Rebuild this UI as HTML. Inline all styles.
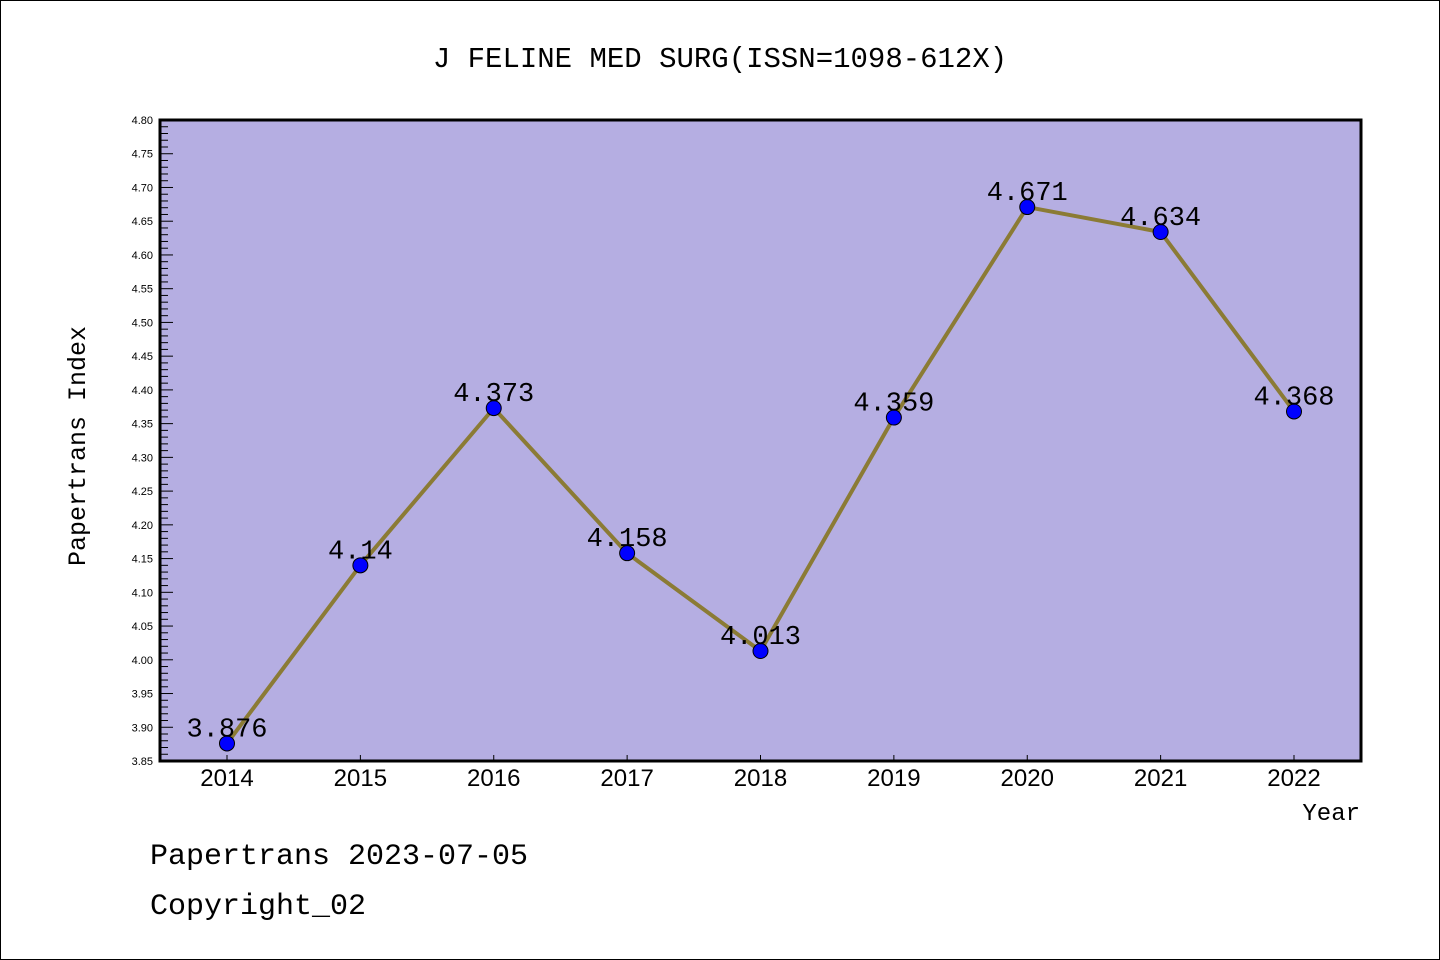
<!DOCTYPE html>
<html><head><meta charset="utf-8"><style>
html,body{margin:0;padding:0;background:#fff;}
svg{display:block;}
</style></head><body>
<svg id="chart" width="1440" height="960" xmlns="http://www.w3.org/2000/svg">
<rect x="0.5" y="0.5" width="1439" height="959" fill="#fff" stroke="#000" stroke-width="1"/>
<text x="720" y="67" text-anchor="middle" font-family="Liberation Mono, monospace" font-size="29" fill="#000">J FELINE MED SURG(ISSN=1098-612X)</text>
<rect x="160" y="120" width="1201" height="641" fill="#b5aee2"/>
<g id="yticks"></g>
<g id="xticks"></g>
<g id="series"></g>
<rect x="160" y="120" width="1201" height="641" fill="none" stroke="#000" stroke-width="3"/>
<text x="85" y="446" transform="rotate(-90 85 446)" text-anchor="middle" font-family="Liberation Mono, monospace" font-size="25" fill="#000">Papertrans Index</text>
<text x="1360" y="820" text-anchor="end" font-family="Liberation Mono, monospace" font-size="24" fill="#000">Year</text>
<text x="150" y="864" font-family="Liberation Mono, monospace" font-size="30" fill="#000">Papertrans 2023-07-05</text>
<text x="150" y="914" font-family="Liberation Mono, monospace" font-size="30" fill="#000">Copyright_02</text>
</svg>
<script>
const years = ['2014','2015','2016','2017','2018','2019','2020','2021','2022'];
const values = [3.876, 4.14, 4.373, 4.158, 4.013, 4.359, 4.671, 4.634, 4.368];
const valueLabels = ['3.876','4.14','4.373','4.158','4.013','4.359','4.671','4.634','4.368'];
const yMin = 3.85, yMax = 4.80;
const NS = 'http://www.w3.org/2000/svg';
const L=160,R=1361,T=120,B=761;
function xPos(i){return 227 + i*(1294-227)/(years.length-1);}
function yPos(v){return B - (v-yMin)/(yMax-yMin)*(B-T);}
function mk(tag,attrs,parent){const e=document.createElementNS(NS,tag);for(const k in attrs)e.setAttribute(k,attrs[k]);parent.appendChild(e);return e;}
const yt=document.getElementById('yticks');
const nMinor=Math.round((yMax-yMin)/0.01);
for(let k=0;k<=nMinor;k++){
  const v=yMin+k*0.01, y=yPos(v), major=k%5===0;
  const t=mk('line',{x1:L,x2:L+(major?13:8),y1:y,y2:y,stroke:'#000','stroke-width':1},yt);
  
  
  if(major){
    const tx=mk('text',{x:L-7,y:y+4,'text-anchor':'end','font-family':'Liberation Sans, sans-serif','font-size':11,fill:'#000'},yt);
    tx.textContent=v.toFixed(2);
    
    
  }
}
const xt=document.getElementById('xticks');
years.forEach((yr,i)=>{
  const x=xPos(i);
  const t=mk('line',{x1:x,x2:x,y1:B-6,y2:B,stroke:'#000','stroke-width':1},xt);
  
  
  const tx=mk('text',{x:x,y:B+25,'text-anchor':'middle','font-family':'Liberation Sans, sans-serif','font-size':24,fill:'#000'},xt);
  tx.textContent=yr;
  
  
});
const s=document.getElementById('series');
const pts=values.map((v,i)=>xPos(i)+','+yPos(v)).join(' ');
const line=mk('polyline',{points:pts,fill:'none',stroke:'#8b7b35','stroke-width':4,'stroke-linejoin':'round'},s);


values.forEach((v,i)=>{
  const c=mk('circle',{cx:xPos(i),cy:yPos(v),r:7.5,fill:'#0000ff',stroke:'#000','stroke-width':1},s);
  
  
});
values.forEach((v,i)=>{
  const tx=mk('text',{x:xPos(i),y:yPos(v)-7,'text-anchor':'middle','font-family':'Liberation Mono, monospace','font-size':27,fill:'#000'},s);
  tx.textContent=valueLabels[i];
  
  
});
</script>
</body></html>
